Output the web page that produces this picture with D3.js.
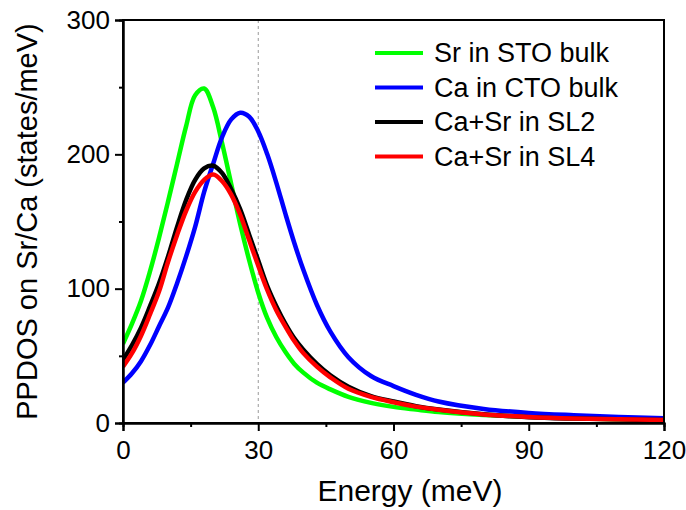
<!DOCTYPE html>
<html>
<head>
<meta charset="utf-8">
<script src="https://cdn.jsdelivr.net/npm/d3@7"></script>
<style>
  body { margin: 0; background: #fff; }
  text { font-family: Arial, "Liberation Sans", sans-serif; }
</style>
</head>
<body>
<script>
const energy = [0, 2, 4, 6, 8, 10, 12, 14, 16, 18, 20, 22, 24, 26, 28, 30, 32, 34, 36, 38, 40, 43, 46, 50, 55, 60, 65, 70, 80, 90, 100, 110, 120];

const srSTO = [59, 74, 91, 113, 138, 165, 193, 221, 244, 249, 235, 208, 178, 148, 121, 97, 78, 64, 53, 44, 37.5, 30, 25, 19.5, 15, 12, 10, 8.2, 6, 4.6, 3.6, 2.8, 2.3];
const caCTO = [30, 37, 46, 58, 72, 86, 104, 124, 146, 172, 193, 213, 226, 231, 228, 217, 200, 179, 156, 134, 114, 88, 68, 49, 35, 27.5, 21, 16, 10.5, 7.5, 5.8, 4.5, 3.5];
const sl2 = [47, 58, 71, 87, 104, 124, 146, 166, 181, 189.5, 191.5, 186, 174, 159, 140, 121, 102, 87, 74, 63, 54.5, 44, 35.5, 27, 20, 16, 12.5, 10, 6.5, 4.3, 3.3, 2.7, 2.2];
const sl4 = [42, 52, 65, 81, 98, 120, 140, 158, 172, 181, 185, 180, 170, 155, 136, 117, 99, 84, 72, 61, 52, 42, 34, 25.5, 19.5, 15.5, 12.2, 9.8, 6.3, 4.5, 3.4, 2.8, 2.3];

const seriesNames = ["Sr in STO bulk", "Ca in CTO bulk", "Ca+Sr in SL2", "Ca+Sr in SL4"];
const seriesColors = ["#00ff00", "#0000ff", "#000000", "#ff0000"];
const seriesValues = [srSTO, caCTO, sl2, sl4];

const xTicks = [0, 30, 60, 90, 120];
const xMinor = [15, 45, 75, 105];
const yTicks = [0, 100, 200, 300];
const yMinor = [50, 150, 250];

const w = 686, h = 510;
const margin = {top: 20, right: 22, bottom: 87, left: 123};
const iw = w - margin.left - margin.right;
const ih = h - margin.top - margin.bottom;

const svg = d3.select("body").append("svg")
  .attr("width", w)
  .attr("height", h);

const g = svg.append("g")
  .attr("transform", `translate(${margin.left},${margin.top})`);

const x = d3.scaleLinear().domain([0, 120]).range([0, iw]);
const y = d3.scaleLinear().domain([0, 300]).range([ih, 0]);

g.append("clipPath").attr("id", "plot")
  .append("rect").attr("width", iw).attr("height", ih);

// dotted guide at 30 meV
g.append("line")
  .attr("x1", x(30)).attr("x2", x(30))
  .attr("y1", 0).attr("y2", ih)
  .attr("stroke", "#999")
  .attr("stroke-width", 1)
  .attr("stroke-dasharray", "3,3");

const line = d3.line()
  .x((d, i) => x(energy[i]))
  .y(d => y(d))
  .curve(d3.curveCatmullRom.alpha(0.5));

g.append("g").attr("clip-path", "url(#plot)")
  .selectAll("path")
  .data(seriesValues)
  .enter()
  .append("path")
  .attr("d", d => line(d))
  .attr("fill", "none")
  .attr("stroke", (d, i) => seriesColors[i])
  .attr("stroke-width", 4.5)
  .attr("stroke-linejoin", "round");

// frame
g.append("rect")
  .attr("width", iw).attr("height", ih)
  .attr("fill", "none")
  .attr("stroke", "#000")
  .attr("stroke-width", 2);

g.append("g")
  .attr("transform", `translate(0,${ih})`)
  .call(d3.axisBottom(x).tickValues(xTicks).tickSize(8).tickPadding(10).tickFormat(d3.format("d")));
g.append("g")
  .attr("transform", `translate(0,${ih})`)
  .call(d3.axisBottom(x).tickValues(xMinor).tickSize(4).tickFormat(""));

g.append("g")
  .call(d3.axisLeft(y).tickValues(yTicks).tickSize(8).tickPadding(5).tickFormat(d3.format("d")));
g.append("g")
  .call(d3.axisLeft(y).tickValues(yMinor).tickSize(4).tickFormat(""));

g.selectAll(".domain").attr("stroke-width", 2);
g.selectAll(".tick line").attr("stroke-width", 2);
g.selectAll(".tick text")
  .attr("font-size", 26)
  .attr("font-family", "Arial, 'Liberation Sans', sans-serif")
  .attr("fill", "#000");

// axis titles
svg.append("text")
  .attr("x", 410).attr("y", 501)
  .attr("text-anchor", "middle")
  .attr("font-size", 30)
  .text("Energy (meV)");

svg.append("text")
  .attr("transform", `translate(37,${margin.top + ih / 2}) rotate(-90)`)
  .attr("text-anchor", "middle")
  .attr("font-size", 29)
  .text("PPDOS on Sr/Ca (states/meV)");

// legend
const legend = svg.append("g").attr("transform", "translate(375,53)");
const item = legend.selectAll("g")
  .data(seriesNames)
  .enter()
  .append("g")
  .attr("transform", (d, i) => `translate(0,${i * 34.5})`);
item.append("line")
  .attr("x1", 0).attr("x2", 48)
  .attr("stroke", (d, i) => seriesColors[i])
  .attr("stroke-width", 4);
item.append("text")
  .attr("x", 59).attr("y", 9)
  .attr("font-size", 27)
  .text(d => d);
</script>
</body>
</html>
